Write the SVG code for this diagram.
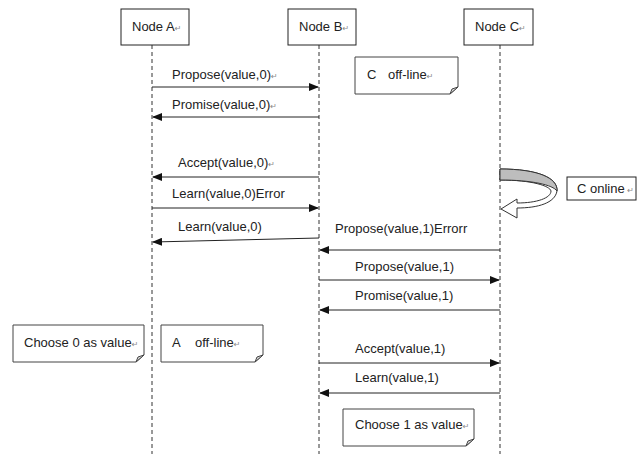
<svg xmlns="http://www.w3.org/2000/svg" width="637" height="454" viewBox="0 0 637 454">
<defs>
<style>
text{font-family:"Liberation Sans",Arial,sans-serif;font-size:13px;fill:#222}
.pm{font-family:"DejaVu Sans",sans-serif;font-size:8px;fill:#888}
.box{fill:#fff;stroke:#222;stroke-width:1}
.life{stroke:#333;stroke-width:1;stroke-dasharray:4,3;fill:none}
.msg{stroke:#222;stroke-width:1;fill:none;marker-end:url(#ah)}
.note{fill:#fff;stroke:#444;stroke-width:1}
.fold{fill:#ddd;stroke:#444;stroke-width:1}
</style>
<marker id="ah" markerWidth="10" markerHeight="8" refX="9" refY="4" orient="auto" markerUnits="userSpaceOnUse">
<path d="M0,0 L10,4 L0,8 Z" fill="#111"/>
</marker>
</defs>
<rect width="637" height="454" fill="#fff"/>

<g id="lifelines">
<line class="life" x1="152" y1="45" x2="152" y2="454"/>
<line class="life" x1="319" y1="45" x2="319" y2="454"/>
<line class="life" x1="500" y1="45" x2="500" y2="454"/>
</g>

<g id="nodeA"><rect class="box" x="121" y="9" width="68" height="36"/><text x="132" y="31">Node A<tspan class="pm">↵</tspan></text></g>
<g id="nodeB"><rect class="box" x="288" y="9" width="68" height="36"/><text x="299" y="31">Node B<tspan class="pm">↵</tspan></text></g>
<g id="nodeC"><rect class="box" x="464" y="9" width="69" height="36"/><text x="475" y="31">Node C<tspan class="pm">↵</tspan></text></g>

<g id="noteCoff">
<path class="note" d="M355,57 H458 V87 L450,94 H355 Z"/>
<path class="fold" d="M458,87 L450,94 L452,89 Z"/>
<text x="367" y="79">C<tspan x="388">off-line</tspan><tspan class="pm">↵</tspan></text>
</g>

<g id="noteChoose0">
<path class="note" d="M13,325 H144 V355 L136,362 H13 Z"/>
<path class="fold" d="M144,355 L136,362 L138,357 Z"/>
<text x="24" y="347">Choose 0 as value<tspan class="pm">↵</tspan></text>
</g>

<g id="noteAoff">
<path class="note" d="M161,325 H263 V355 L255,362 H161 Z"/>
<path class="fold" d="M263,355 L255,362 L257,357 Z"/>
<text x="172" y="347">A<tspan x="195">off-line</tspan><tspan class="pm">↵</tspan></text>
</g>

<g id="noteChoose1">
<path class="note" d="M343,409 H474 V439 L466,446 H343 Z"/>
<path class="fold" d="M474,439 L466,446 L468,441 Z"/>
<text x="355" y="429">Choose 1 as value<tspan class="pm">↵</tspan></text>
</g>

<g id="cOnline">
<rect class="box" x="567" y="177" width="69" height="23"/>
<text x="577" y="193">C online<tspan class="pm" font-size="6"> ↵</tspan></text>
</g>

<g id="connectors">
<line class="msg" x1="152" y1="87" x2="318" y2="87"/>
<line class="msg" x1="319" y1="117" x2="153" y2="117"/>
<line class="msg" x1="319" y1="177" x2="153" y2="177"/>
<line class="msg" x1="152" y1="208" x2="318" y2="208"/>
<line class="msg" x1="319" y1="238" x2="153" y2="242"/>
<line class="msg" x1="500" y1="250" x2="320" y2="250"/>
<line class="msg" x1="319" y1="280" x2="499" y2="280"/>
<line class="msg" x1="500" y1="310" x2="320" y2="310"/>
<line class="msg" x1="319" y1="363" x2="499" y2="363"/>
<line class="msg" x1="500" y1="393" x2="320" y2="393"/>
<g id="curvedArrow">
<path d="M500,169 C538,169 558,178 557,191 C555,203 538,208 517,208 L517,218 L501,209 L517,199 L517,203 C537,203 551,198 551,191 C550,186 532,180 500,180 Z" fill="#fff" stroke="#333" stroke-width="1"/>
<path d="M500,169 C538,169 558,178 557,191 C553,185 532,180 500,180 Z" fill="#bdbdbd" stroke="#333" stroke-width="1"/>
</g>
</g>

<g id="labels">
<text x="172" y="79">Propose(value,0)<tspan class="pm">↵</tspan></text>
<text x="172" y="109">Promise(value,0)<tspan class="pm">↵</tspan></text>
<text x="178" y="167">Accept(value,0)<tspan class="pm">↵</tspan></text>
<text x="172" y="198">Learn(value,0)Error</text>
<text x="178" y="231">Learn(value,0)</text>
<text x="335" y="233">Propose(value,1)Errorr</text>
<text x="355" y="271">Propose(value,1)</text>
<text x="355" y="300">Promise(value,1)</text>
<text x="355" y="353">Accept(value,1)</text>
<text x="355" y="382">Learn(value,1)</text>
</g>
</svg>
